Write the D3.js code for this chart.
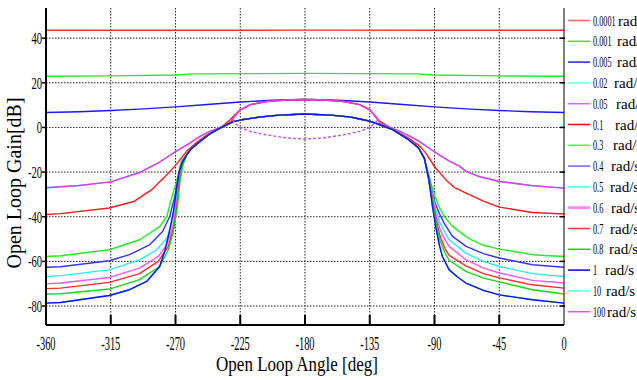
<!DOCTYPE html>
<html>
<head>
<meta charset="utf-8">
<script src="https://cdn.jsdelivr.net/npm/d3@7"></script>
<style>
body { margin: 0; background: #fff; }
svg { display: block; font-family: "Liberation Serif", "Times New Roman", serif; }
</style>
</head>
<body>
<div id="chart"></div>
<script>
// axis ticks
var xTicks = [-360, -315, -270, -225, -180, -135, -90, -45, 0];
var yTicks = [-80, -60, -40, -20, 0, 20, 40];

// legend entries (rad/s)
var legendLabels = ["0.0001", "0.001", "0.005", "0.02", "0.05", "0.1", "0.3", "0.4", "0.5", "0.6", "0.7", "0.8", "1", "10", "100"];

// [angle deg, gain dB]
var gain0001 = [[-360,43.5],[-270,43.5],[-180,43.6],[-90,43.5],[0,43.5]];
var gain001 = [[-360,22.9],[-315,23.1],[-270,23.5],[-258,24],[-180,24.2],[-102,24],[-90,23.5],[-45,23.1],[0,22.9]];
var gain005 = [[-360,6.7],[-337,7],[-315,7.6],[-295,8.2],[-270,9.2],[-248,10.3],[-225,11.4],[-203,12.2],[-180,12.5],
               [-157,12.2],[-135,11.4],[-112,10.3],[-90,9.2],[-65,8.2],[-45,7.6],[-23,7],[0,6.7]];
var gainOuter = [[-360,-27],[-337,-26],[-315,-24.4],[-295,-20.2],[-281,-15.5],[-270,-10.8],[-260,-7],[-253,-4],[-246,-1.8],
                 [-239,0],[-232,2],[-229,4.9],[-225,7.9],[-218,10.2],[-207,11.6],[-191,12.4],[-180,12.5],[-169,12.4],
                 [-153,11.6],[-142,10.2],[-135,7.9],[-131,4.9],[-128,2],[-121,0],[-114,-1.8],[-107,-4],[-100,-6.5],
                 [-94,-9.2],[-87,-12.2],[-79,-15.3],[-73,-17.2],[-68,-19.7],[-59,-22],[-45,-24.2],[-23,-26],[0,-27.2]];
var gain01 = [[-360,-39],[-350,-38.6],[-316,-36.1],[-299,-33.2],[-286,-27.6],[-276,-21.2],[-270,-17],[-262,-10.5],[-255,-6.5],
              [-249,-3.7],[-239,-0.3],[-232,3.4],[-229,5.5],[-225,7.9],[-218,10.2],[-207,11.6],[-191,12.4],[-180,12.5],
              [-169,12.4],[-153,11.6],[-142,10.2],[-135,7.9],[-131,5],[-128,2.7],[-119,-0.7],[-108,-4.8],[-100,-8.5],
              [-96,-11.5],[-90,-17.5],[-82,-23.5],[-76,-27],[-68,-29.4],[-56,-33],[-45,-35.7],[-22,-38.1],[0,-38.8]];
var gainDashed = [[-230,3.4],[-229,2],[-225,0],[-218,-1.8],[-207,-3.3],[-193,-4.7],[-180,-5.2],[-167,-4.7],[-153,-3.3],
                  [-142,-1.8],[-135,0],[-131,2],[-130,3.4]];

// middle stretch shared by the 0.3 ... 1 rad/s curves
var bundleMid = [[-262,-12],[-259,-9.5],[-253,-6.3],[-246,-2.8],[-239,-0.3],[-230,2.6],[-225,3.3],[-212,4.6],[-198,5.5],
                 [-180,6],[-162,5.5],[-148,4.6],[-142,3.8],[-135,2.8],[-128,1.2],[-119,-1],[-108,-5.5],[-101,-9.2],[-97,-14]];

var left03 = [[-360,-57.8],[-350,-57.5],[-316,-54.8],[-295,-50.3],[-281,-44.4],[-276,-39.9],[-273,-32.4],[-269,-23.4],[-266,-15]];
var left04 = [[-360,-62.6],[-350,-62.4],[-316,-59.7],[-302,-57],[-288,-52.6],[-279,-46.6],[-274,-39.9],[-270.5,-30.9],[-267.5,-20.4],[-265,-15]];
var left05 = [[-360,-66.8],[-350,-66.4],[-316,-63.8],[-295,-59.3],[-283,-54.8],[-276,-49.6],[-272,-41.4],[-269.3,-32.4],[-267,-21],[-265,-15.5]];
var left06 = [[-360,-70.1],[-350,-69.7],[-316,-67.2],[-295,-63],[-282,-57.8],[-276,-52.5],[-271.7,-44.4],[-269,-33],[-267,-22],[-265,-16]];
var left07 = [[-360,-72.2],[-350,-72],[-316,-69.4],[-295,-65.5],[-282,-60],[-275,-53.3],[-271.7,-45.8],[-269,-35],[-267,-23],[-265,-16.5]];
var left08 = [[-360,-74.6],[-350,-74.5],[-316,-72.4],[-295,-68.2],[-281,-62.3],[-275,-54.8],[-271.7,-47.3],[-268.8,-36],[-266.8,-24],[-265,-17]];
var left1 = [[-360,-78.7],[-350,-78.4],[-316,-75.3],[-302,-72.7],[-290,-69],[-281,-62.3],[-277.5,-55.5],[-274,-46],[-271.5,-38],[-269.3,-28],[-267.5,-20],[-265.5,-16]];

var right03 = [[-94.5,-20],[-92,-26],[-89.5,-31],[-86.5,-36],[-83,-40],[-78,-44],[-72,-47],[-66,-49.8],[-56,-52.8],[-45,-54.5],[-22,-57],[0,-57.8]];
var right04 = [[-94.5,-20.5],[-92,-28],[-89.5,-34],[-86.7,-38.5],[-83.2,-43],[-77.5,-48.8],[-68,-53.3],[-56,-56.5],[-45,-58.5],[-22,-61.5],[0,-62.6]];
var right05 = [[-94.5,-21],[-91.5,-30],[-89,-37],[-86,-43],[-82.5,-47.3],[-79.8,-50.3],[-68.2,-56.3],[-56,-60],[-45,-62.3],[-22,-65.5],[0,-66.8]];
var right06 = [[-94.5,-21],[-91.5,-31],[-89,-39],[-86,-46],[-82.5,-50.5],[-79.8,-53.3],[-68.2,-59.3],[-56,-63],[-45,-65.2],[-22,-68.5],[0,-69.7]];
var right07 = [[-94.5,-21.5],[-91.5,-32],[-88.7,-42],[-86,-49],[-82.5,-54.5],[-79.8,-57.3],[-68.2,-62],[-56,-65.5],[-45,-67.4],[-22,-70.5],[0,-72]];
var right08 = [[-94.5,-22],[-91.5,-33],[-88.5,-44],[-86,-51],[-82.5,-56.5],[-79.8,-59.5],[-68.2,-64.5],[-56,-67.5],[-45,-69.2],[-22,-72.7],[0,-74.6]];
var right1 = [[-94,-23],[-91.5,-35],[-89,-45],[-86.5,-53],[-84.5,-57.8],[-79.8,-63.8],[-74,-67],[-68.2,-69.7],[-56,-73],[-45,-75],[-22,-77.2],[0,-78.7]];

// one entry per legend label; 0.02 and 10 rad/s lie hidden under other curves
var seriesData = [
    gain0001, gain001, gain005, gainOuter, gainOuter, gain01,
    left03.concat(bundleMid, right03), left04.concat(bundleMid, right04),
    left05.concat(bundleMid, right05), left06.concat(bundleMid, right06),
    left07.concat(bundleMid, right07), left08.concat(bundleMid, right08),
    left1.concat(bundleMid, right1), left1.concat(bundleMid, right1), gainDashed
];

// styles
var seriesColors = ["#ff3030", "#22ee22", "#1a1aff", "#33eeee", "#ee33ee", "#ff1a1a", "#22ee22", "#3333ff",
                    "#22eeee", "#ff55ff", "#ff2a2a", "#11dd11", "#1010ff", "#33eeee", "#bb55ee"];
var legendColors = ["#ff6666", "#33ee33", "#2222ff", "#66ffff", "#ff55ff", "#ff0000", "#44ff44", "#6666ff",
                    "#33ffff", "#ff88ff", "#ff3333", "#00dd00", "#0000ff", "#55ffff", "#ff44ff"];
var legendRadX = [618, 617, 617, 614, 616, 615, 613, 611, 610, 611, 610, 609, 605, 606, 607];
var drawOrder = [13, 3, 0, 1, 2, 5, 4, 6, 7, 8, 9, 10, 11, 12, 14];

var margin = {top: 8, right: 73, bottom: 55, left: 46},
    width = 637 - margin.left - margin.right,
    height = 380 - margin.top - margin.bottom;

var root = d3.select("#chart")
  .append("svg")
    .attr("width", 637)
    .attr("height", 380);

var svg = root.append("g")
    .attr("transform", "translate(" + margin.left + "," + margin.top + ")");

var x = d3.scaleLinear().domain([-360, 0]).range([0, width]);
var y = d3.scaleLinear().domain([-88.5, 53.5]).range([height, 0]);

// dotted grid
svg.selectAll(".vgrid")
  .data(xTicks.slice(1, -1))
  .enter().append("line")
    .attr("x1", function(d) { return x(d); })
    .attr("x2", function(d) { return x(d); })
    .attr("y1", 0).attr("y2", height)
    .style("stroke", "#222").style("stroke-width", 1).style("stroke-dasharray", "1.5,1.5");

svg.selectAll(".hgrid")
  .data(yTicks)
  .enter().append("line")
    .attr("x1", 0).attr("x2", width)
    .attr("y1", function(d) { return y(d); })
    .attr("y2", function(d) { return y(d); })
    .style("stroke", "#222").style("stroke-width", 1).style("stroke-dasharray", "1.5,1.5");

// curves
var line = d3.line()
    .x(function(d) { return x(d[0]); })
    .y(function(d) { return y(d[1]); });

drawOrder.forEach(function(i) {
    svg.append("path")
        .datum(seriesData[i])
        .attr("d", line)
        .attr("fill", "none")
        .attr("stroke", seriesColors[i])
        .attr("stroke-width", 1.4)
        .attr("stroke-linejoin", "round")
        .attr("stroke-dasharray", i == 14 ? "3,2" : null);
});

// axes frame
svg.append("line").attr("x1", 0).attr("x2", 0).attr("y1", 0).attr("y2", height)
    .style("stroke", "#000").style("stroke-width", 2);
svg.append("line").attr("x1", 0).attr("x2", width).attr("y1", height).attr("y2", height)
    .style("stroke", "#000").style("stroke-width", 2);
svg.append("line").attr("x1", width).attr("x2", width).attr("y1", 0).attr("y2", height)
    .style("stroke", "#000").style("stroke-width", 1);

// inner ticks on bottom, outer ticks left, small ticks right
svg.selectAll(".xtick")
  .data(xTicks.slice(1, -1))
  .enter().append("line")
    .attr("x1", function(d) { return x(d); })
    .attr("x2", function(d) { return x(d); })
    .attr("y1", height - 10).attr("y2", height)
    .style("stroke", "#000").style("stroke-width", 2);

svg.selectAll(".ytick")
  .data(yTicks)
  .enter().append("line")
    .attr("x1", -4).attr("x2", 0)
    .attr("y1", function(d) { return y(d); })
    .attr("y2", function(d) { return y(d); })
    .style("stroke", "#000").style("stroke-width", 1.5);

svg.selectAll(".rtick")
  .data(yTicks)
  .enter().append("line")
    .attr("x1", width - 4).attr("x2", width + 1)
    .attr("y1", function(d) { return y(d); })
    .attr("y2", function(d) { return y(d); })
    .style("stroke", "#000").style("stroke-width", 1.5);

// condensed tick labels
svg.selectAll(".xlab")
  .data(xTicks)
  .enter().append("text")
    .attr("transform", function(d) { return "translate(" + x(d) + "," + (height + 25) + ") scale(0.55,1)"; })
    .attr("text-anchor", "middle")
    .style("font-size", "19px")
    .text(function(d) { return d; });

svg.selectAll(".ylab")
  .data(yTicks)
  .enter().append("text")
    .attr("transform", function(d) { return "translate(-4," + (y(d) + 6) + ") scale(0.62,1)"; })
    .attr("text-anchor", "end")
    .style("font-size", "17px")
    .text(function(d) { return d; });

// axis titles
root.append("text")
    .attr("x", 297).attr("y", 371)
    .attr("text-anchor", "middle")
    .attr("transform", "translate(297,0) scale(0.85,1) translate(-297,0)")
    .style("font-size", "20px")
    .text("Open Loop Angle [deg]");

root.append("text")
    .attr("transform", "translate(21,183) rotate(-90)")
    .attr("text-anchor", "middle")
    .style("font-size", "20px")
    .text("Open Loop Gain[dB]");

// legend
legendLabels.forEach(function(lab, i) {
    var yy = 20.5 + i * 20.8;
    root.append("line")
        .attr("x1", 568).attr("x2", 590)
        .attr("y1", yy).attr("y2", yy)
        .style("stroke", legendColors[i])
        .style("stroke-width", i == 9 ? 3 : 1.5);
    root.append("text")
        .attr("transform", "translate(593," + (yy + 5) + ") scale(0.55,1)")
        .style("font-size", "15px")
        .text(lab);
    root.append("text")
        .attr("x", legendRadX[i]).attr("y", yy + 5)
        .style("font-size", "15px")
        .text("rad/s");
});
</script>
</body>
</html>
